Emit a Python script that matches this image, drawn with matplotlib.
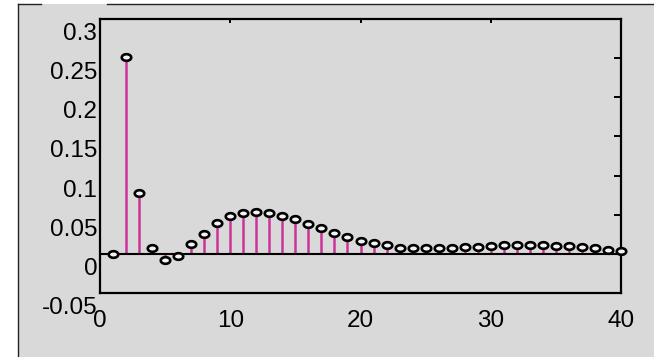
import numpy as np
import matplotlib
matplotlib.use("Agg")
import matplotlib.pyplot as plt
from matplotlib.path import Path
from matplotlib.patches import Rectangle
from matplotlib.lines import Line2D
import matplotlib.transforms as mtransforms

# values
lags = list(range(1, 41))
acf = [0.0, 0.252, 0.078, 0.008, -0.008, -0.003, 0.0125, 0.026, 0.039, 0.0485,
       0.052, 0.053, 0.052, 0.0485, 0.044, 0.038, 0.033, 0.0264, 0.0217, 0.0166,
       0.0137, 0.011, 0.008, 0.0073, 0.0073, 0.0073, 0.0075, 0.0085, 0.0085, 0.010,
       0.0115, 0.0115, 0.0115, 0.0115, 0.0105, 0.010, 0.009, 0.0073, 0.005, 0.004]
xticks = [0, 10, 20, 30, 40]
yticks = [-0.05, 0, 0.05, 0.1, 0.15, 0.2, 0.25, 0.3]
ytick_labels = ["-0.05", "0", "0.05", "0.1", "0.15", "0.2", "0.25", "0.3"]

plt.rcParams['font.family'] = ['Liberation Sans', 'DejaVu Sans']

W, H = 654, 357
fig = plt.figure(figsize=(W / 100, H / 100), dpi=100, facecolor='white')

# gray panel with partial black frame
bg = '#d9d9d9'
fig.patches.append(Rectangle((18 / W, 0), 1 - 18 / W, 1 - 4 / H,
                             transform=fig.transFigure, facecolor=bg,
                             edgecolor='none', zorder=-2))
ytop = 1 - 4 / H
for xs, ys in [([18 / W, 18 / W], [0, ytop]),
               ([18 / W, 41 / W], [ytop, ytop]),
               ([107 / W, 1], [ytop, ytop])]:
    fig.lines.append(Line2D(xs, ys, transform=fig.transFigure,
                            color='#222222', lw=1.0, zorder=-1))

ax = fig.add_axes([100 / W, 1 - 293 / H, 521 / W, 274 / H])
ax.set_facecolor(bg)
ax.set_xlim(0, 40)
ax.set_ylim(-0.05, 0.3)

# stems, baseline, markers
ax.vlines(lags, 0, acf, color='#cc3399', lw=1.8, zorder=2)
ax.axhline(0, color='black', lw=1.5, zorder=3)
t = np.linspace(0, 2 * np.pi, 60)
ellipse = Path(np.column_stack([np.cos(t), 0.7 * np.sin(t)]), closed=True)
ax.plot(lags, acf, ls='none', marker=ellipse, ms=6.8, mfc='#f4f4f4',
        mec='black', mew=1.9, zorder=4, clip_on=False)

for s in ax.spines.values():
    s.set_linewidth(1.6)

ax.set_xticks(xticks)
ax.set_yticks(yticks)
ax.set_yticklabels(ytick_labels)
ax.tick_params(axis='both', length=0, labelsize=17.5, colors='black')
ax.tick_params(axis='x', pad=12)
ax.tick_params(axis='y', pad=2)
shift = mtransforms.ScaledTranslation(0, -4 / 100, fig.dpi_scale_trans)
for lab in ax.get_yticklabels():
    lab.set_va('top')
    lab.set_transform(lab.get_transform() + shift)

# small inward ticks on top and right
top = ax.secondary_xaxis('top')
top.set_xticks([10, 20, 30])
top.tick_params(direction='in', length=3, width=1.4, labeltop=False)
top.spines['top'].set_visible(False)
right = ax.secondary_yaxis('right')
right.set_yticks([0.05, 0.1, 0.15, 0.2, 0.25])
right.tick_params(direction='in', length=5, width=1.4, labelright=False)
right.spines['right'].set_visible(False)

fig.savefig('out.png', dpi=100, facecolor='white')
